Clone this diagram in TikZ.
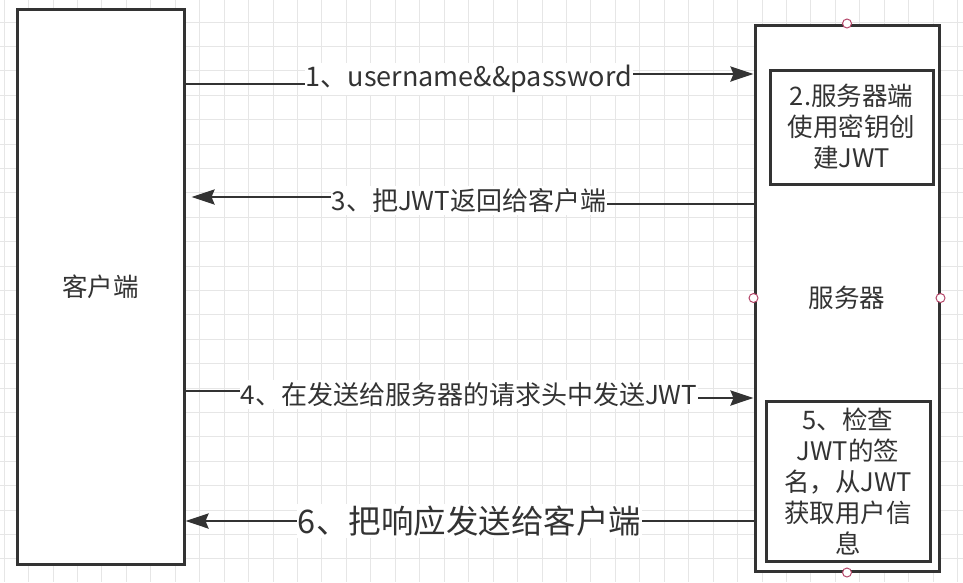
\documentclass[tikz,border=0pt]{standalone}
\usepackage{fontspec}
\setmainfont{Noto Sans CJK SC}
\usetikzlibrary{arrows.meta}
\definecolor{ink}{HTML}{333333}
\definecolor{gridc}{HTML}{E6E6E6}
\definecolor{handlec}{HTML}{B5476A}
\begin{document}
\begin{tikzpicture}[x=1pt,y=-1pt,
	box/.style={draw=ink, line width=3pt, fill=white, text=ink, align=center, inner sep=0pt, font=\fontsize{25.5}{31}\selectfont},
	edge/.style={draw=ink, line width=2.8pt, -{Stealth[length=23pt,width=15pt,inset=3pt]}},
	lbl/.style={fill=white, text=ink, inner xsep=1pt, inner ysep=2pt, font=\fontsize{26}{30}\selectfont},
	handle/.style={circle, draw=handlec, fill=white, line width=1pt, minimum size=9pt, inner sep=0pt}]
		\useasboundingbox[fill=white] (0,0) rectangle (963,582);
		% grid
		\foreach \i in {0,...,39} \draw[gridc, line width=0.8pt] (4+24.45*\i,0) -- ++(0,582);
		\foreach \j in {0,...,24} \draw[gridc, line width=0.8pt] (0,-2.5+24.4*\j) -- ++(963,0);
		\node[box, minimum width=167, minimum height=555] (client) at (100.5,286.5) {客户端};
		\node[box, minimum width=184, minimum height=546] (server) at (847,298) {服务器};
		\node[box, minimum width=163, minimum height=114] (sign) at (851.5,127) {2.服务器端\\使用密钥创\\建JWT};
		\node[box, minimum width=164, minimum height=160] (check) at (848,481) {5、检查\\JWT的签\\名，从JWT\\获取用户信\\息};
		\node[handle] (h1) at (server.north) {};
		\node[handle] (h2) at (server.south) {};
		\node[handle] (h3) at (server.west) {};
		\node[handle] (h4) at (server.east) {};
		\draw[edge] (client.east |- 0,84) -- (469,84) -- (469,74) node[lbl, midway, font=\fontsize{27}{30}\selectfont] (l1) {1、username\&\&password} -- (server.west |- 0,74);
		\draw[edge, shorten >=6pt] (server.west |- 0,204) -- (469,204) -- (469,197) node[lbl, midway] (l3) {3、把JWT返回给客户端} -- (client.east |- 0,197);
		\draw[edge] (client.east |- 0,391) -- (469,391) -- (469,398) node[lbl, midway] (l4) {4、在发送给服务器的请求头中发送JWT} -- (server.west |- 0,398);
		\draw[edge] (server.west |- 0,521) -- (client.east |- 0,521) node[lbl, midway, font=\fontsize{32.5}{38}\selectfont] (l6) {6、把响应发送给客户端};
\end{tikzpicture}
\end{document}
